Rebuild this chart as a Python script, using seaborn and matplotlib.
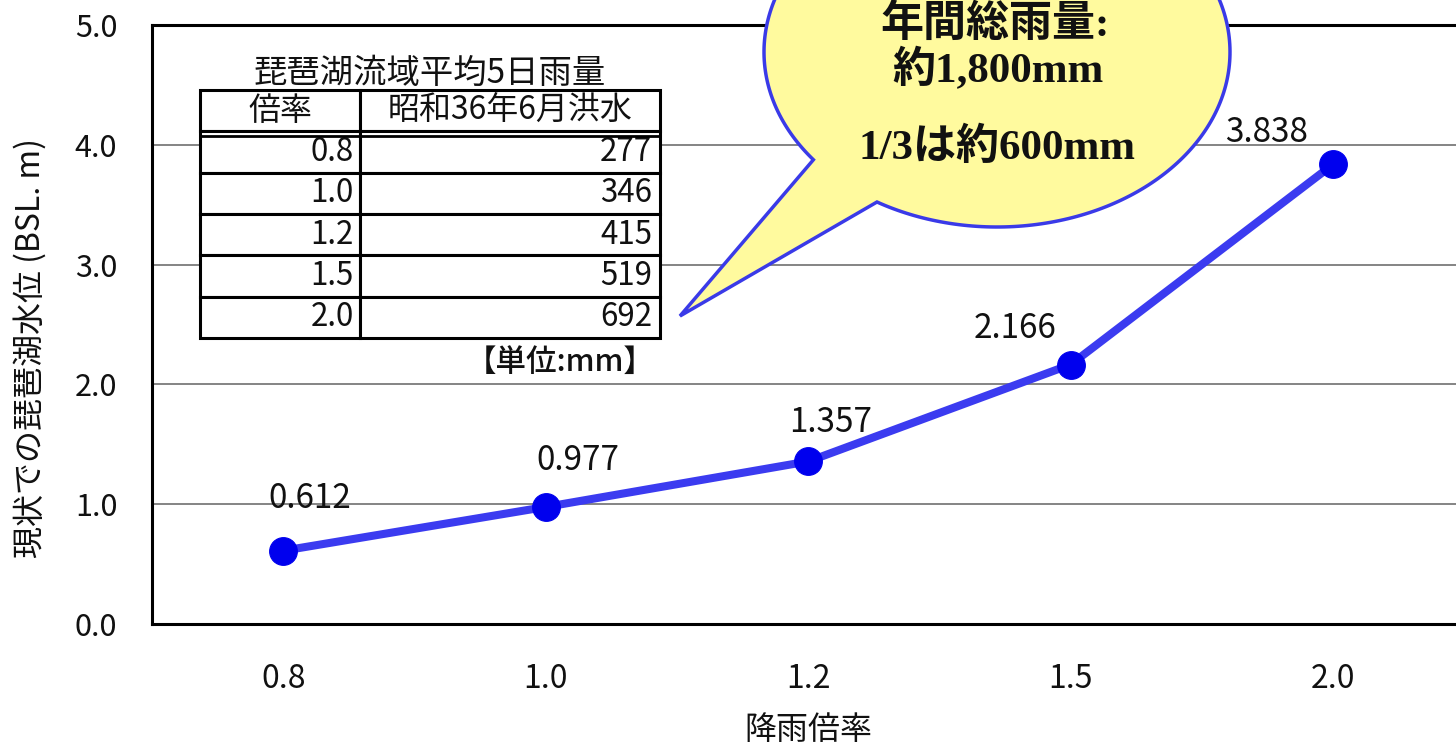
import numpy as np
import matplotlib
matplotlib.use('Agg')
import matplotlib.pyplot as plt
import seaborn as sns
import pandas as pd
from matplotlib.patches import Polygon

# ---- data ----
rain_ratio = ['0.8', '1.0', '1.2', '1.5', '2.0']
water_level = [0.612, 0.977, 1.357, 2.166, 3.838]
table_ratio = ['0.8', '1.0', '1.2', '1.5', '2.0']
table_rain_mm = [277, 346, 415, 519, 692]
table_header = ['倍率', '昭和36年6月洪水']
table_title = '琵琶湖流域平均5日雨量'
table_unit = '【単位:mm】'
bubble_lines = ['年間総雨量:', '約1,800mm', '1/3は約600mm']
y_ticks = [0.0, 1.0, 2.0, 3.0, 4.0, 5.0]

# label offsets (pixels) for value annotations
label_offsets = [(27, 52), (32, 46), (22, 39), (-56, 36), (-67, 32)]

sns.set_theme(style='white')
plt.rcParams['font.family'] = ['Noto Sans CJK JP', 'DejaVu Sans']

W, H = 1456, 751
fig = plt.figure(figsize=(W / 100, H / 100), dpi=100)
fig.patch.set_facecolor('white')

def fx(x):
    return x / W

def fy(y):
    return 1 - y / H

ax = fig.add_axes([fx(152), fy(624), (1464.5 - 152) / W, 599 / H])

df = pd.DataFrame({'x': np.arange(len(rain_ratio)), 'y': water_level})
sns.lineplot(data=df, x='x', y='y', ax=ax, color='#3B3BF0', lw=5.8,
             marker='o', markersize=20, markerfacecolor='#0000EE',
             markeredgecolor='#0000EE', zorder=3)

ax.set_xlim(-0.5, len(rain_ratio) - 0.5)
ax.set_ylim(0, 5)
ax.set_xticks(np.arange(len(rain_ratio)))
ax.set_xticklabels(rain_ratio)
ax.set_xticks(np.arange(len(rain_ratio) - 1) + 0.5, minor=True)
ax.tick_params(axis='x', which='major', length=0, pad=28, labelsize=23, labelcolor='#111')
ax.tick_params(axis='x', which='minor', direction='in', length=9, width=1, color='#444')
ax.set_yticks(y_ticks)
ax.set_yticklabels([f'{v:.1f}' for v in y_ticks])
ax.set_yticks(np.arange(0, 5.01, 0.2), minor=True)
ax.tick_params(axis='y', which='both', direction='in', length=7, width=1.6, color='black',
               pad=25, labelsize=22, labelcolor='#111')
ax.yaxis.grid(True, which='major', color='#707070', lw=1.2)
ax.xaxis.grid(False)
for s in ['left', 'bottom', 'top']:
    ax.spines[s].set_visible(True)
    ax.spines[s].set_color('black')
    ax.spines[s].set_linewidth(2.2)
ax.spines['right'].set_visible(False)

ax.set_ylabel('現状での琵琶湖水位 (BSL. m)', fontsize=23, color='#111')
ax.yaxis.set_label_coords((47 - 152) / 1312.5, (624 - 348) / 599)
ax.set_xlabel('降雨倍率', fontsize=23, color='#111', va='top')
ax.xaxis.set_label_coords(0.5, (624 - 714) / 599)

for i, (v, off) in enumerate(zip(water_level, label_offsets)):
    ax.annotate(f'{v:.3f}', (i, v), xytext=off, textcoords='offset pixels',
                ha='center', va='center', fontsize=24, color='#111', zorder=4)

# ---- table ----
tax = fig.add_axes([fx(200), fy(338), 460 / W, 248 / H])
tax.axis('off')
tax.set_xlim(0, 1)
tax.set_ylim(0, 1)
cell_text = [[r, str(v)] for r, v in zip(table_ratio, table_rain_mm)]
tbl = tax.table(cellText=cell_text, colLabels=table_header, bbox=[0, 0, 1, 1],
                colWidths=[160 / 460, 300 / 460], cellLoc='right')
tbl.auto_set_font_size(False)
for (r, c), cell in tbl.get_celld().items():
    cell.set_linewidth(2.2)
    cell.set_edgecolor('black')
    cell.set_facecolor('white')
    cell.get_text().set_fontsize(23 if r == 0 else 22.5)
    cell.get_text().set_color('#111')
    if r == 0:
        cell.get_text().set_horizontalalignment('center')
        cell._loc = 'center'
    else:
        cell.PAD = 0.04 if c == 0 else 0.027
y2 = 5 / 6 - 5 / 248
tax.plot([0, 1], [y2, y2], color='black', lw=2.0, zorder=10, clip_on=False)

fig.text(fx(430), fy(73), table_title, ha='center', va='center', fontsize=24, color='#111')
fig.text(fx(655), fy(362), table_unit, ha='right', va='center', fontsize=22, color='#111',
         fontweight='medium')

# ---- speech bubble ----
cx, cy, a, b = 997, 52, 233, 175
t = np.radians(np.linspace(142, 481, 300))
px = cx + a * np.cos(t)
py = cy + b * np.sin(t)
pts = [(fx(x), fy(y)) for x, y in zip(px, py)] + [(fx(680), fy(316))]
bubble = Polygon(pts, closed=True, transform=fig.transFigure, facecolor='#FFFA9E',
                 edgecolor='#3A3AE8', lw=2.5, zorder=5)
fig.add_artist(bubble)
for txt, (x, y) in zip(bubble_lines, [(995, 24), (998, 70), (997, 148)]):
    fig.text(fx(x), fy(y), txt, ha='center', va='center', fontsize=31, fontweight='bold',
             family=['Liberation Serif', 'Noto Sans CJK JP'], color='#111', zorder=6)

fig.savefig('out.png', dpi=100, facecolor='white')
